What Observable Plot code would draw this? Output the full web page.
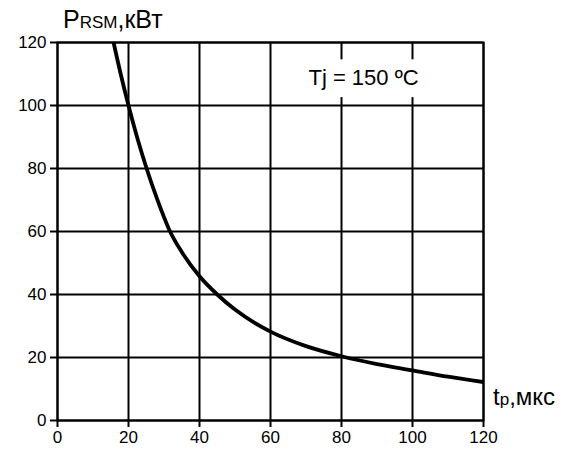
<!DOCTYPE html>
<html><head><meta charset="utf-8">
<script src="https://cdn.jsdelivr.net/npm/d3@7"></script>
<script src="https://cdn.jsdelivr.net/npm/@observablehq/plot@0.6"></script>
<style>body{margin:0;background:#fff;} #chart{position:relative;width:561px;}</style>
</head><body><div id="chart"></div>
<script>
// Pulse duration t_p (мкс) and surge power P_RSM (кВт)
const tp   = [15.8, 17.8, 20,  22.4, 25.1, 28,   31.5, 35,   40,   45, 50,   60,   70,   80,   90,   100,  110,  120];
const prsm = [120,  110,  100, 90,   80,   70.5, 60.5, 53.5, 45.8, 40, 35.2, 28.2, 23.6, 20.4, 17.9, 15.9, 13.9, 12.2];
const xTicks = [0, 20, 40, 60, 80, 100, 120];
const yTicks = [0, 20, 40, 60, 80, 100, 120];
const titleMain = "P", titleSub = "RSM", titleUnit = ",кВт";
const xLabelMain = "t", xLabelSub = "p", xLabelUnit = ",мкс";
const note = "Tj = 150 ºC";

const data = tp.map((t, i) => ({t, p: prsm[i]}));
const font = "'Liberation Sans', Arial, sans-serif";

const plot = Plot.plot({
  width: 561, height: 461,
  marginLeft: 57, marginRight: 78, marginTop: 42, marginBottom: 41,
  style: {fontFamily: font, fontSize: "17px", color: "#000", background: "#fff"},
  x: {domain: [0, 120], label: null},
  y: {domain: [0, 120], label: null},
  marks: [
    Plot.gridX(xTicks, {stroke: "#000", strokeOpacity: 1, strokeWidth: 2}),
    Plot.gridY(yTicks, {stroke: "#000", strokeOpacity: 1, strokeWidth: 2}),
    Plot.frame({stroke: "#000", strokeWidth: 2}),
    Plot.rect([{x1: 66.5, x2: 104, y1: 102.5, y2: 114.5}], {x1: "x1", x2: "x2", y1: "y1", y2: "y2", fill: "#fff"}),
    Plot.text([note], {x: 86.2, y: 108.8, text: d => d, fontSize: 22, fill: "#000"}),
    Plot.axisX(xTicks, {tickSize: 7, tickPadding: 3, strokeWidth: 2, fontSize: 17}),
    Plot.axisY(yTicks, {tickSize: 7, tickPadding: 4, strokeWidth: 2, fontSize: 17}),
    Plot.line(data, {x: "t", y: "p", curve: "monotone-x", stroke: "#000", strokeWidth: 3.8, clip: true})
  ]
});
document.getElementById("chart").appendChild(plot);

const svg = d3.select(plot);
const t1 = svg.append("text").attr("x", 63).attr("y", 28).attr("text-anchor", "start")
  .attr("font-family", font).attr("font-size", 25).attr("fill", "#000");
t1.append("tspan").text(titleMain);
t1.append("tspan").attr("font-size", 17).text(titleSub);
t1.append("tspan").text(titleUnit);

const t2 = svg.append("text").attr("x", 493).attr("y", 405).attr("text-anchor", "start")
  .attr("font-family", font).attr("font-size", 24).attr("fill", "#000");
t2.append("tspan").text(xLabelMain);
t2.append("tspan").attr("font-size", 17).text(xLabelSub);
t2.append("tspan").text(xLabelUnit);
</script>
</body></html>
